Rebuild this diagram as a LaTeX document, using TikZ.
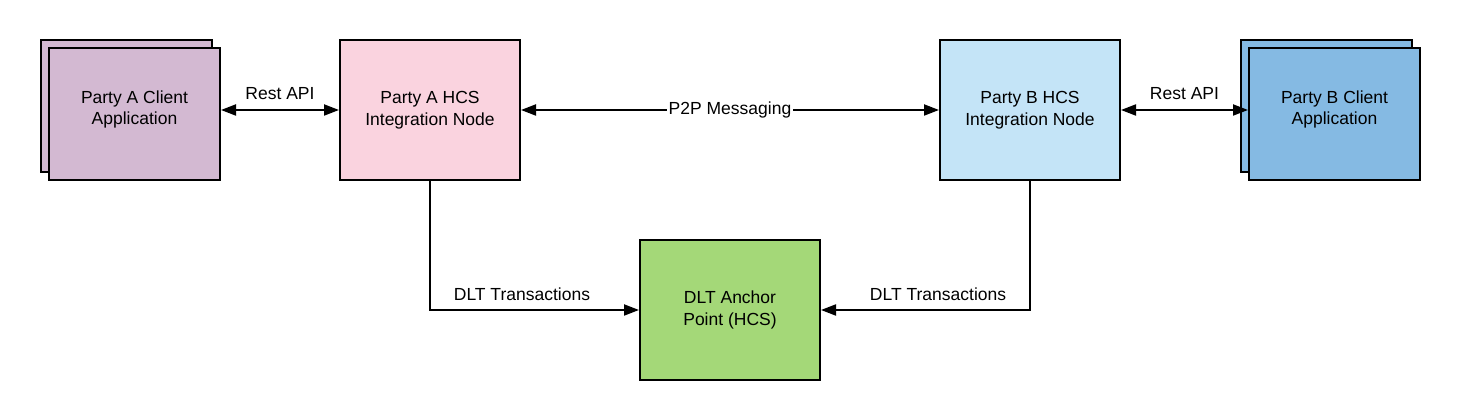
\documentclass[tikz,border=0pt]{standalone}
\usepackage{fontspec}
\setmainfont{Liberation Sans}
\usetikzlibrary{arrows.meta}

\definecolor{clientA}{HTML}{D3B9D2}
\definecolor{hcsA}{HTML}{FAD3DF}
\definecolor{hcsB}{HTML}{C4E4F7}
\definecolor{clientB}{HTML}{85BAE3}
\definecolor{anchor}{HTML}{A4D878}

\tikzset{
  box/.style={draw, line width=2pt, minimum width=180pt, minimum height=140pt,
    align=center, inner sep=0pt, font={\fontsize{17.5}{21.5}\selectfont}},
  client/.style={box, minimum width=171pt, minimum height=132pt},
  boxtext/.style={align=center, inner sep=0pt, font={\fontsize{17.5}{21.5}\selectfont}},
  both/.style={line width=2pt, {Triangle[length=15pt,width=11pt]}-{Triangle[length=15pt,width=11pt]}},
  oneway/.style={line width=2pt, -{Triangle[length=15pt,width=11pt]}},
  lbl/.style={font={\fontsize{17.5}{21}\selectfont}, inner sep=2pt}
}

\begin{document}
\begin{tikzpicture}[x=1pt, y=1pt]

\useasboundingbox (0,0) rectangle (1460,420);

% Party A side
\node[client, fill=clientA] (clientAback) at (126,314) {};
\node[client, fill=clientA] (clientA) at (134.5,306) {};
\node[boxtext] (clientAtext) at ([yshift=4.5pt]clientA.center) {Party A Client\\Application};
\node[box, fill=hcsA] (hcsA) at (430,310) {Party A HCS\\Integration Node};

% Party B side
\node[box, fill=hcsB] (hcsB) at (1030,310) {Party B HCS\\Integration Node};
\node[client, fill=clientB] (clientBback) at (1326,314) {};
\node[client, fill=clientB] (clientB) at (1334.5,306) {};
\node[boxtext] (clientBtext) at ([yshift=4.5pt]clientB.center) {Party B Client\\Application};

% Anchor point
\node[box, fill=anchor] (dlt) at (730,110) {DLT Anchor\\Point (HCS)};

% Rest API links
\draw[both] (hcsA.west -| clientA.east) -- node[lbl, above=7pt] {Rest API} (hcsA.west);
\draw[both] (hcsB.east) -- node[lbl, above=7pt] {Rest API} (hcsB.east -| clientB.west);

% P2P messaging
\draw[both] (hcsA.east) -- node[lbl, fill=white, inner sep=2pt] {P2P Messaging} (hcsB.west);

% DLT transactions
\draw[oneway] (hcsA.south) |- node[lbl, pos=0.72, above=6pt] {DLT Transactions} (dlt.west);
\draw[oneway] (hcsB.south) |- node[lbl, pos=0.72, above=6pt] {DLT Transactions} (dlt.east);

\end{tikzpicture}
\end{document}
